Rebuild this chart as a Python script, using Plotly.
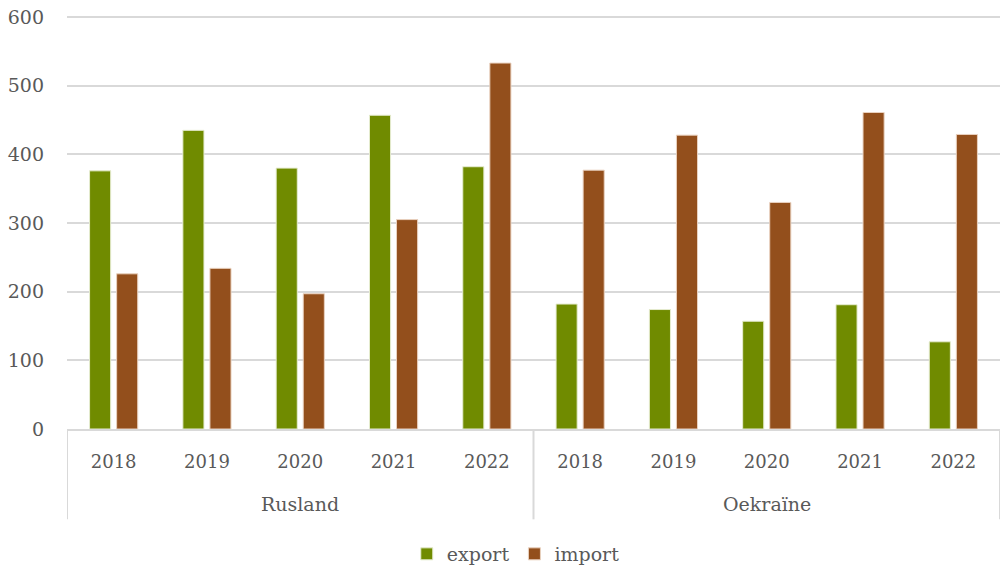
import plotly.graph_objects as go

countries = ["Rusland", "Oekraïne"]
years = ["2018", "2019", "2020", "2021", "2022"]
export_rusland = [376, 435, 380, 457, 382]
import_rusland = [226, 234, 197, 305, 533]
export_oekraine = [182, 174, 157, 181, 127]
import_oekraine = [377, 428, 330, 461, 429]

n = len(years)
positions = list(range(len(countries) * n))
tick_text = years * len(countries)
export_vals = export_rusland + export_oekraine
import_vals = import_rusland + import_oekraine

FONT = "DejaVu Serif"
GREY = "#595959"
LINE = "#d9d9d9"
PLOT_H = 417  # plot area height in px, used to place labels below the axis

fig = go.Figure()
fig.add_trace(go.Bar(x=positions, y=export_vals, name="export",
                     marker=dict(color="#708b00", line=dict(color="#e6ecd0", width=1))))
fig.add_trace(go.Bar(x=positions, y=import_vals, name="import",
                     marker=dict(color="#934f1c", line=dict(color="#ead2c0", width=1))))

# group dividers and group labels
for g in range(len(countries) + 1):
    fig.add_shape(type="line", xref="x", yref="paper",
                  x0=g * n - 0.5, x1=g * n - 0.5, y0=0, y1=-91 / PLOT_H,
                  line=dict(color=LINE, width=2))
for g, c in enumerate(countries):
    fig.add_annotation(text=c, xref="x", yref="paper", x=g * n + (n - 1) / 2,
                       y=-76 / PLOT_H, yanchor="middle", showarrow=False,
                       font=dict(size=19, color=GREY, family=FONT))

fig.update_layout(
    width=1000, height=573,
    margin=dict(l=67, r=0, t=15, b=141),
    paper_bgcolor="white", plot_bgcolor="white",
    barmode="group", bargap=0.42, bargroupgap=0.22,
    font=dict(family=FONT, color=GREY, size=18),
    legend=dict(orientation="h", x=0.481, xanchor="center", y=-0.302, yanchor="middle",
                font=dict(size=19, color=GREY), traceorder="normal"),
    xaxis=dict(tickmode="array", tickvals=positions, ticktext=tick_text,
               range=[-0.5, len(positions) - 0.5], showline=True, linecolor=LINE,
               linewidth=2, showgrid=False, zeroline=False, ticks="",
               tickfont=dict(size=18, color=GREY), automargin=False,
               ticklabelstandoff=15),
    yaxis=dict(range=[0, 603], tickvals=[0, 100, 200, 300, 400, 500, 600],
               showgrid=True, gridcolor=LINE, gridwidth=1.5,
               zeroline=False, tickfont=dict(size=19, color=GREY), ticklabelstandoff=22,
               showline=False, automargin=False, ticklabeloverflow="allow"),
)

post = (
    "document.documentElement.style.margin='0';"
    "document.documentElement.style.overflow='hidden';"
    "document.body.style.margin='0';document.body.style.overflow='hidden';"
    "var gd=document.getElementById('{plot_id}');gd.style.overflow='hidden';"
    "document.querySelectorAll('.main-svg').forEach(function(s){s.style.overflow='hidden';});"
)
fig.write_html("out.html", config={"displayModeBar": False}, post_script=post)
